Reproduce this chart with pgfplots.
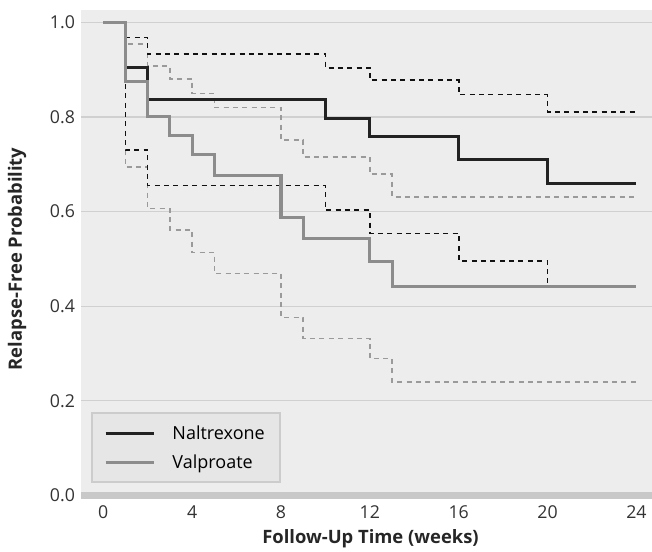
\documentclass[border=0pt]{standalone}
\usepackage{pgfplots}
\pgfplotsset{compat=1.18}
\usepackage{fontspec}
\setmainfont{Open Sans}
\definecolor{bgc}{HTML}{EDEDED}
\definecolor{gridc}{HTML}{D0D0D0}
\definecolor{basec}{HTML}{C8C8C8}
\definecolor{naltc}{HTML}{222222}
\definecolor{valpc}{HTML}{8C8C8C}
\definecolor{ncic}{HTML}{111111}
\definecolor{vcic}{HTML}{9A9A9A}
\definecolor{legfill}{HTML}{E6E6E6}
\definecolor{legdraw}{HTML}{CCCCCC}
\begin{document}
\begin{tikzpicture}
\begin{axis}[
  scale only axis,
  width=428pt, height=366pt,
  xmin=-1.0, xmax=24.7,
  ymin=-0.006, ymax=1.026,
  axis line style={draw=none},
  axis background/.style={fill=bgc},
  xtick={0,4,8,12,16,20,24},
  ytick={0,0.2,0.4,0.6,0.8,1.0},
  yticklabels={0.0,0.2,0.4,0.6,0.8,1.0},
  major tick length=0pt,
  ymajorgrids,
  grid style={gridc, line width=1pt},
  /pgf/number format/assume math mode=true,
  tick label style={font=\fontsize{13.3}{16}\selectfont, text=black!80},
  y tick label style={xshift=-1pt},
  x tick label style={yshift=-2pt},
  xlabel={\textbf{Follow-Up Time (weeks)}},
  ylabel={\textbf{Relapse-Free Probability}},
  label style={font=\fontsize{13.8}{16}\selectfont, text=black!85},
  xlabel style={at={(axis description cs:0.5,0)}, anchor=center, yshift=-30pt, xshift=3pt},
  ylabel style={at={(axis description cs:0,0.49)}, anchor=center, rotate=0, yshift=48pt},
  legend style={at={(0.0175,0.031)}, anchor=south west, fill=legfill, draw=legdraw, line width=1.5pt,
    font=\fontsize{13.5}{16}\selectfont, inner xsep=9pt, inner ysep=7pt, row sep=6pt,
    /tikz/every odd column/.append style={column sep=11pt}},
  legend cell align=left,
  legend image code/.code={\draw[#1] (0pt,0pt) -- (36pt,0pt);},
  clip=false,
]
\draw[basec, line width=5pt] (axis cs:-1.0,0.0) -- (axis cs:24.7,0.0);
% CIs
\addplot[const plot, forget plot, vcic, line width=1.1pt, dash pattern=on 3.75pt off 3.25pt] coordinates {
(0,1) (1,0.954) (2,0.908) (3,0.880) (4,0.849) (5,0.820) (8,0.751) (9,0.715) (12,0.679) (13,0.631) (24,0.631)};
\addplot[const plot, forget plot, vcic, line width=1.1pt, dash pattern=on 3.75pt off 3.25pt] coordinates {
(0,1) (1,0.694) (2,0.606) (3,0.561) (4,0.513) (5,0.469) (8,0.376) (9,0.332) (12,0.289) (13,0.240) (24,0.240)};
\addplot[const plot, forget plot, ncic, line width=1.2pt, dash pattern=on 3.75pt off 3.25pt] coordinates {
(0,1) (1,0.968) (2,0.933) (10,0.904) (12,0.878) (16,0.847) (20,0.810) (24,0.810)};
\addplot[const plot, forget plot, ncic, line width=1.2pt, dash pattern=on 3.75pt off 3.25pt] coordinates {
(0,1) (1,0.730) (2,0.655) (10,0.603) (12,0.554) (16,0.496) (20,0.440) (24,0.440)};
% Main curves
\addplot[const plot, naltc, line width=2.3pt] coordinates {
(0,1) (1,0.905) (2,0.837) (10,0.797) (12,0.758) (16,0.710) (20,0.660) (24,0.660)};
\addlegendentry{Naltrexone}
\addplot[const plot, valpc, line width=2.3pt] coordinates {
(0,1) (1,0.875) (2,0.800) (3,0.760) (4,0.720) (5,0.677) (8,0.587) (9,0.543) (12,0.495) (13,0.442) (24,0.442)};
\addlegendentry{Valproate}
\end{axis}
\pgfresetboundingbox
\useasboundingbox ([xshift=-60.75pt,yshift=-39.75pt]current axis.south west) rectangle ([yshift=7.5pt]current axis.north east);
\end{tikzpicture}
\end{document}
